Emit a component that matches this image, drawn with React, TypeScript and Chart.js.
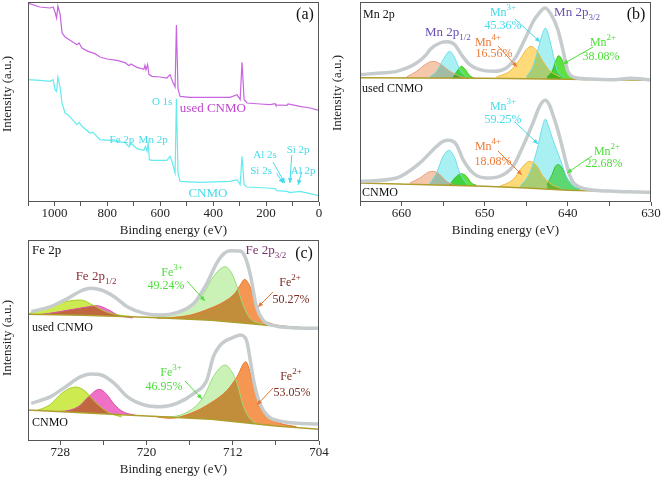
import React, { useEffect, useRef } from 'react';
import { Chart, registerables } from 'chart.js';
Chart.register(...registerables);

type Pt = [number, number];
const FONT = "'Liberation Serif', 'Times New Roman', serif";

// ---------- (a) survey spectra: [binding energy eV, intensity a.u.] ----------
const surveyUsed: Pt[] = [[1100,597],[1055,585],[1017,582],[1005,585],[998,570],[992,552],[987,588],[979,565],[971,507],[960,495],[941,485],[915,472],[907,477],[896,462],[873,452],[847,445],[828,435],[801,429],[764,425],[733,418],[718,409],[711,414],[688,404],[662,398],[658,410],[654,397],[648,412],[643,383],[631,377],[601,375],[575,372],[563,382],[554,362],[544,345],[539,531],[533,339],[525,317],[488,314],[412,314],[336,314],[310,322],[298,307],[291,419],[283,307],[272,297],[223,294],[185,292],[166,295],[163,290],[148,291],[121,290],[117,294],[72,287],[34,282],[0,275]];
const surveyCnmo: Pt[] = [[1100,367],[1055,365],[1017,362],[1005,367],[998,337],[992,332],[987,375],[979,345],[971,295],[960,267],[949,262],[915,232],[907,239],[896,227],[866,207],[854,209],[828,187],[790,185],[764,182],[733,178],[718,165],[711,177],[688,160],[662,155],[656,167],[650,152],[646,177],[641,127],[631,125],[575,125],[563,137],[554,117],[544,87],[539,310],[533,87],[525,62],[450,59],[336,62],[310,67],[298,52],[291,137],[283,52],[272,45],[197,42],[166,40],[159,34],[121,32],[110,28],[72,32],[34,25],[0,19]];

// ---------- (b) Mn 2p ----------
const usedMnEnv: Pt[] = [[665,382],[662.6,387],[660.6,392],[658.2,417],[657.0,443],[656.6,457],[655.4,477],[654.5,481],[653.6,472],[652.8,442],[651.8,412],[650.6,397],[649.0,392],[647.4,402],[646.2,437],[645.0,497],[644.2,540],[643.5,565],[642.75,582],[642.0,562],[641.2,517],[640.6,457],[640.0,392],[638.9,372],[637.3,369],[634.5,367],[632.5,371],[630,366]];
const usedMnBase: Pt[] = [[665,373],[650,371],[640,368],[630,365]];
const usedMn4Sat: Pt[] = [[659.4,375],[658.2,392],[657.0,415],[656.2,422],[655.4,415],[654.2,392],[653.0,377],[652.2,372]];
const usedMn3a: Pt[] = [[656.6,375],[655.8,392],[655.0,427],[654.2,452],[653.6,432],[653.0,397],[652.2,375]];
const usedMn2a: Pt[] = [[653.8,375],[653.2,397],[652.8,407],[652.4,399],[651.8,379],[651.2,371]];
const usedMn4b: Pt[] = [[648.6,375],[647.0,392],[645.8,427],[645.0,457],[644.4,467],[643.7,452],[643.0,422],[642.1,392],[640.9,375]];
const usedMn3b: Pt[] = [[645.0,375],[644.2,407],[643.6,457],[643.1,502],[642.7,522],[642.4,507],[641.9,457],[641.3,397],[640.6,375]];
const usedMn2b: Pt[] = [[642.5,375],[641.9,392],[641.4,427],[641.1,439],[640.7,427],[640.1,392],[639.3,372]];

const cnmoMnEnv: Pt[] = [[665,62],[660.6,72],[657.8,117],[656.2,157],[655.0,182],[654.3,185],[653.4,172],[652.6,127],[651.4,87],[649.8,72],[648.2,77],[646.6,107],[645.4,167],[644.2,237],[643.4,287],[642.75,305],[642.2,290],[641.8,262],[641.4,232],[641.0,197],[640.6,157],[640.2,117],[639.8,82],[639.4,60],[638.6,45],[637.3,37],[634.5,32],[630,29]];
const cnmoMnBase: Pt[] = [[665,57],[650,47],[645,42],[640,35],[630,29]];
const cnmoMn4Sat: Pt[] = [[659.0,57],[657.8,72],[656.8,89],[656.2,92],[655.4,82],[654.6,62],[653.8,52]];
const cnmoMn3a: Pt[] = [[656.6,55],[655.8,87],[655.0,137],[654.3,155],[653.6,132],[653.0,87],[652.2,55]];
const cnmoMn2a: Pt[] = [[654.2,53],[653.4,77],[652.8,85],[652.2,77],[651.6,57],[651.0,50]];
const cnmoMn4b: Pt[] = [[648.2,47],[646.6,67],[645.4,107],[644.6,122],[643.7,107],[643.0,77],[641.9,52],[640.9,42]];
const cnmoMn3b: Pt[] = [[645.8,45],[644.6,87],[643.7,157],[643.1,222],[642.7,249],[642.4,232],[641.8,187],[640.9,127],[640.1,72],[639.3,47],[638.5,38]];
const cnmoMn2b: Pt[] = [[642.5,52],[641.9,82],[641.5,107],[641.1,112],[640.7,102],[640.1,72],[639.3,47],[638.5,39]];

// ---------- (c) Fe 2p ----------
const usedFeEnv: Pt[] = [[730.7,388],[728.9,403],[727.3,428],[726.1,450],[725.2,458],[724.2,453],[723.0,433],[721.8,403],[720.2,383],[718.7,378],[717.2,385],[715.6,413],[714.4,473],[713.5,533],[712.8,563],[712.2,571],[711.3,570],[710.9,555],[710.4,503],[709.8,403],[709.2,363],[708.0,345],[706.4,340],[704,338]];
const usedFeBase: Pt[] = [[731,380],[726,377],[720,371],[714,362],[708,345],[704,337]];
const usedFe3a: Pt[] = [[731,381],[729.0,403],[727.5,418],[726.1,423],[725.0,408],[723.8,388],[722.6,378],[721.2,373]];
const usedFe2a: Pt[] = [[730.0,379],[729.0,383],[727.2,393],[725.7,401],[724.6,406],[723.5,393],[722.6,377],[721.3,369]];
const usedFe3b: Pt[] = [[719.6,371],[717.8,378],[715.9,408],[714.7,443],[713.8,493],[712.7,523],[712.1,503],[711.6,463],[711.1,413],[710.4,368],[709.5,353],[708.5,347]];
const usedFe2b: Pt[] = [[719.0,368],[717.8,370],[715.9,378],[714.1,398],[712.8,418],[711.8,443],[711.3,468],[710.9,485],[710.4,463],[709.9,418],[709.5,378],[708.5,353],[707.3,345],[706.0,341]];

const cnmoFeEnv: Pt[] = [[730.7,113],[728.9,133],[727.5,163],[726.1,193],[725.2,201],[724.2,198],[723.0,173],[721.8,133],[720.2,108],[718.7,103],[717.2,113],[715.6,143],[714.4,183],[713.8,253],[713.15,288],[712.7,300],[712.0,310],[711.3,318],[710.9,312],[710.69,298],[710.38,243],[710.07,183],[709.6,123],[708.84,78],[707.3,58],[704,51]];
const cnmoFeBase: Pt[] = [[731,93],[726,85],[720,75],[714,65],[708,45],[704,35]];
const cnmoFe3a: Pt[] = [[730.3,90],[729.0,108],[727.8,145],[726.6,162],[725.8,152],[724.7,115],[723.5,85],[722.3,72]];
const cnmoFe2a: Pt[] = [[728.5,88],[727.2,92],[726.2,106],[725.4,132],[724.4,155],[723.7,140],[723.0,110],[722.2,88],[721.0,77]];
const cnmoFe3b: Pt[] = [[719.6,74],[717.8,73],[715.9,93],[714.7,133],[713.8,193],[712.7,228],[712.1,208],[711.6,173],[711.0,103],[710.1,58],[709.0,48]];
const cnmoFe2b: Pt[] = [[719.0,72],[717.8,68],[715.9,83],[714.1,113],[712.5,153],[711.6,193],[710.8,238],[710.2,183],[709.6,113],[708.8,73],[707.6,53],[706.1,43]];

// ---------- styling ----------
const CYAN_T = '#45dbe8', MAG_T = '#c044d0', PURPLE = '#6b4fb3', ORANGE_T = '#ef7a36', GREEN_T = '#4ddf3a', FE2_T = '#7a2a22';
const ENV = 'rgb(198,204,206)';

type Seg = [string, number];
interface Note { x: number; y: number; t: string | Seg[]; c: string; s: number; a?: 'left' | 'center'; }
interface Arr { x1: number; y1: number; x2: number; y2: number; c: string; }

const sup = (a: string, b: string): Seg[] => [[a, 0], [b, 1]];
const sub = (a: string, b: string): Seg[] => [[a, 0], [b, -1]];

const toXY = (p: Pt[]) => p.map(([x, y]) => ({ x, y }));
const plain = (p: Pt[], color: string, w: number) => ({ data: toXY(p), borderColor: color, borderWidth: w, pointRadius: 0, fill: false, tension: 0 });
const smooth = (p: Pt[], color: string, w: number) => ({ data: toXY(p), borderColor: color, borderWidth: w, pointRadius: 0, fill: false, cubicInterpolationMode: 'monotone' });
const comp = (p: Pt[], stroke: string, fillC: string, base: number) => ({ data: toXY(p), borderColor: stroke, borderWidth: 1, pointRadius: 0, backgroundColor: fillC, fill: { target: base }, cubicInterpolationMode: 'monotone' });

const C_CYAN = 'rgb(168,240,242)', S_CYAN = 'rgb(110,222,232)';
const C_YEL = 'rgb(255,218,120)', S_YEL = 'rgb(240,185,70)';
const C_GRN = 'rgb(95,225,65)', S_GRN = 'rgb(55,195,35)';
const C_GRN2 = 'rgb(140,230,120)';
const C_SAL = 'rgb(245,200,172)', S_SAL = 'rgb(230,160,130)';
const C_FE3 = 'rgb(202,242,182)', S_FE3 = 'rgb(150,220,120)';
const C_FE2 = 'rgb(245,150,82)', S_FE2 = 'rgb(235,115,45)';
const C_YG = 'rgb(205,235,80)', S_YG = 'rgb(165,205,40)';
const C_PINK = 'rgb(240,112,200)', S_PINK = 'rgb(220,80,165)';
const BASE = 'rgb(175,158,45)';

interface Cfg {
  xMin: number; xMax: number; step: number; lab: (v: number) => boolean; yMax: number;
  pad: any; xh: number; tpb: number; yTitleY: number;
  ds: () => any[]; notes: Note[]; arrows: Arr[];
}

const cfgA: Cfg = {
  xMin: 0, xMax: 1100, step: 100, lab: (v) => v % 200 === 0 && v <= 1000, yMax: 600,
  pad: { left: 28, right: 11, top: 2, bottom: 0 }, xh: 36, tpb: 0, yTitleY: 94,
  ds: () => [plain(surveyUsed, 'rgb(200,100,225)', 1.2), plain(surveyCnmo, 'rgb(100,235,238)', 1.2)],
  notes: [
    { x: 53, y: 561, t: '(a)', c: '#111', s: 16 },
    { x: 593, y: 300, t: 'O 1s', c: CYAN_T, s: 11 },
    { x: 401, y: 279, t: 'used CNMO', c: MAG_T, s: 13 },
    { x: 745, y: 186, t: 'Fe 2p', c: CYAN_T, s: 11 },
    { x: 627, y: 186, t: 'Mn 2p', c: CYAN_T, s: 11 },
    { x: 204, y: 141, t: 'Al 2s', c: CYAN_T, s: 11 },
    { x: 79, y: 156, t: 'Si 2p', c: CYAN_T, s: 11 },
    { x: 219, y: 93, t: 'Si 2s', c: CYAN_T, s: 11 },
    { x: 60, y: 93, t: 'Al 2p', c: CYAN_T, s: 11 },
    { x: 420, y: 24, t: 'CNMO', c: CYAN_T, s: 13 },
  ],
  arrows: [
    { x1: 160, y1: 86, x2: 135, y2: 56, c: CYAN_T },
    { x1: 174, y1: 120, x2: 129, y2: 57, c: CYAN_T },
    { x1: 103, y1: 141, x2: 110, y2: 57, c: CYAN_T },
    { x1: 65, y1: 91, x2: 79, y2: 51, c: CYAN_T },
  ],
};

const cfgB: Cfg = {
  xMin: 630, xMax: 665, step: 5, lab: (v) => v % 10 === 0, yMax: 600,
  pad: { left: 30, right: 10, top: 2, bottom: 0 }, xh: 36, tpb: 0, yTitleY: 93,
  ds: () => [
    smooth(usedMnEnv, ENV, 3.5), smooth(cnmoMnEnv, ENV, 3.5),
    plain(usedMnBase, BASE, 1.5), plain(cnmoMnBase, BASE, 1.5),
    comp(usedMn4Sat, S_SAL, C_SAL, 2), comp(usedMn3a, S_CYAN, C_CYAN, 2), comp(usedMn2a, S_GRN, C_GRN, 2),
    comp(usedMn4b, S_YEL, C_YEL, 2), comp(usedMn3b, S_CYAN, C_CYAN, 2), comp(usedMn2b, S_GRN, C_GRN, 2),
    comp(cnmoMn4Sat, S_SAL, C_SAL, 3), comp(cnmoMn3a, S_CYAN, C_CYAN, 3), comp(cnmoMn2a, S_GRN, C_GRN, 3),
    comp(cnmoMn4b, S_YEL, C_YEL, 3), comp(cnmoMn3b, S_CYAN, C_CYAN, 3), comp(cnmoMn2b, S_GRN, C_GRN2, 3),
  ],
  notes: [
    { x: 664.64, y: 561, t: 'Mn 2p', c: '#111', s: 12, a: 'left' },
    { x: 631.8, y: 561, t: '(b)', c: '#111', s: 16 },
    { x: 654.42, y: 507, t: sub('Mn 2p', '1/2'), c: PURPLE, s: 13 },
    { x: 649.6, y: 477, t: sup('Mn', '4+'), c: ORANGE_T, s: 12 },
    { x: 648.88, y: 444, t: '16.56%', c: ORANGE_T, s: 12 },
    { x: 647.8, y: 567, t: sup('Mn', '3+'), c: CYAN_T, s: 12 },
    { x: 647.8, y: 528, t: '45.36%', c: CYAN_T, s: 12 },
    { x: 638.9, y: 567, t: sub('Mn 2p', '3/2'), c: PURPLE, s: 13 },
    { x: 635.77, y: 477, t: sup('Mn', '2+'), c: GREEN_T, s: 12 },
    { x: 636.01, y: 435, t: '38.08%', c: GREEN_T, s: 12 },
    { x: 664.76, y: 339, t: 'used CNMO', c: '#111', s: 12, a: 'left' },
    { x: 647.8, y: 285, t: sup('Mn', '3+'), c: CYAN_T, s: 12 },
    { x: 647.8, y: 246, t: '59.25%', c: CYAN_T, s: 12 },
    { x: 649.6, y: 165, t: sup('Mn', '4+'), c: ORANGE_T, s: 12 },
    { x: 649.0, y: 120, t: '18.08%', c: ORANGE_T, s: 12 },
    { x: 635.29, y: 150, t: sup('Mn', '2+'), c: GREEN_T, s: 12 },
    { x: 635.65, y: 114, t: '22.68%', c: GREEN_T, s: 12 },
    { x: 664.76, y: 27, t: 'CNMO', c: '#111', s: 12, a: 'left' },
  ],
  arrows: [
    { x1: 648.4, y1: 468, x2: 646.12, y2: 405, c: ORANGE_T },
    { x1: 646.36, y1: 549, x2: 643.35, y2: 480, c: CYAN_T },
    { x1: 636.98, y1: 465, x2: 640.58, y2: 414, c: GREEN_T },
    { x1: 646.36, y1: 240, x2: 643.59, y2: 174, c: CYAN_T },
    { x1: 648.4, y1: 153, x2: 645.52, y2: 81, c: ORANGE_T },
    { x1: 637.1, y1: 138, x2: 640.1, y2: 87, c: GREEN_T },
  ],
};

const cfgC: Cfg = {
  xMin: 704, xMax: 731, step: 4, lab: (v) => (v - 704) % 8 === 0, yMax: 603,
  pad: { left: 28, right: 11, top: 2, bottom: 0 }, xh: 37, tpb: 1, yTitleY: 100,
  ds: () => [
    smooth(usedFeEnv, ENV, 3.5), smooth(cnmoFeEnv, ENV, 3.5),
    plain(usedFeBase, BASE, 1.5), plain(cnmoFeBase, BASE, 1.5),
    comp(usedFe3a, S_YG, C_YG, 2), comp(usedFe2a, S_PINK, C_PINK, 2),
    comp(usedFe3b, S_FE3, C_FE3, 2), comp(usedFe2b, S_FE2, C_FE2, 2),
    comp(cnmoFe3a, S_YG, C_YG, 3), comp(cnmoFe2a, S_PINK, C_PINK, 3),
    comp(cnmoFe3b, S_FE3, C_FE3, 3), comp(cnmoFe2b, S_FE2, C_FE2, 3),
  ],
  notes: [
    { x: 730.63, y: 570, t: 'Fe 2p', c: '#111', s: 13, a: 'left' },
    { x: 705.39, y: 561, t: '(c)', c: '#111', s: 16 },
    { x: 724.69, y: 492, t: sub('Fe 2p', '1/2'), c: '#8a2d3a', s: 13 },
    { x: 708.92, y: 570, t: sub('Fe 2p', '3/2'), c: '#7a3070', s: 13 },
    { x: 717.64, y: 504, t: sup('Fe', '3+'), c: GREEN_T, s: 12 },
    { x: 718.2, y: 465, t: '49.24%', c: GREEN_T, s: 12 },
    { x: 706.69, y: 474, t: sup('Fe', '2+'), c: FE2_T, s: 12 },
    { x: 706.6, y: 423, t: '50.27%', c: FE2_T, s: 12 },
    { x: 730.63, y: 339, t: 'used CNMO', c: '#111', s: 12, a: 'left' },
    { x: 717.73, y: 204, t: sup('Fe', '3+'), c: GREEN_T, s: 12 },
    { x: 718.38, y: 162, t: '46.95%', c: GREEN_T, s: 12 },
    { x: 706.6, y: 192, t: sup('Fe', '2+'), c: FE2_T, s: 12 },
    { x: 706.5, y: 144, t: '53.05%', c: FE2_T, s: 12 },
    { x: 730.63, y: 54, t: 'CNMO', c: '#111', s: 12, a: 'left' },
  ],
  arrows: [
    { x1: 716.25, y1: 480, x2: 714.58, y2: 420, c: GREEN_T },
    { x1: 708.27, y1: 447, x2: 709.66, y2: 402, c: '#e07a3a' },
    { x1: 716.43, y1: 180, x2: 714.86, y2: 126, c: GREEN_T },
    { x1: 708.27, y1: 159, x2: 709.75, y2: 108, c: '#e07a3a' },
  ],
};

function drawNote(ctx: CanvasRenderingContext2D, px: number, py: number, n: Note) {
  const segs: Seg[] = typeof n.t === 'string' ? [[n.t, 0]] : n.t;
  const main = `${n.s}px ${FONT}`;
  const small = `${Math.round(n.s * 0.72)}px ${FONT}`;
  let total = 0;
  const ws = segs.map(([t, k]) => { ctx.font = k ? small : main; const w = ctx.measureText(t).width; total += w; return w; });
  let x = n.a === 'left' ? px : px - total / 2;
  ctx.fillStyle = n.c; ctx.textBaseline = 'middle'; ctx.textAlign = 'left';
  segs.forEach(([t, k], i) => {
    ctx.font = k ? small : main;
    const dy = k === 1 ? -n.s * 0.42 : k === -1 ? n.s * 0.32 : 0;
    ctx.fillText(t, x, py + dy);
    x += ws[i];
  });
}

function drawArrow(ctx: CanvasRenderingContext2D, x1: number, y1: number, x2: number, y2: number, c: string) {
  ctx.strokeStyle = c; ctx.fillStyle = c; ctx.lineWidth = 1;
  ctx.beginPath(); ctx.moveTo(x1, y1); ctx.lineTo(x2, y2); ctx.stroke();
  const a = Math.atan2(y2 - y1, x2 - x1), L = 5, W = 2.2;
  ctx.beginPath();
  ctx.moveTo(x2, y2);
  ctx.lineTo(x2 - L * Math.cos(a) + W * Math.sin(a), y2 - L * Math.sin(a) - W * Math.cos(a));
  ctx.lineTo(x2 - L * Math.cos(a) - W * Math.sin(a), y2 - L * Math.sin(a) + W * Math.cos(a));
  ctx.closePath(); ctx.fill();
}

function Panel({ cfg, left, top, width, height }: { cfg: Cfg; left: number; top: number; width: number; height: number }) {
  const ref = useRef<HTMLCanvasElement>(null);
  useEffect(() => {
    const overlay = {
      id: 'overlay',
      beforeDraw(chart: any) { chart.ctx.globalCompositeOperation = 'multiply'; },
      beforeDatasetsDraw(chart: any) { chart.ctx.globalCompositeOperation = 'source-over'; },
      afterDraw(chart: any) {
        const ctx: CanvasRenderingContext2D = chart.ctx;
        const { left: l, right: r, top: t, bottom: b } = chart.chartArea;
        const xs = chart.scales.x, ys = chart.scales.y;
        ctx.save();
        ctx.globalCompositeOperation = 'source-over';
        ctx.strokeStyle = '#555'; ctx.lineWidth = 1;
        ctx.strokeRect(l + 0.5, t + 0.5, r - l - 1, b - t - 1);
        cfg.arrows.forEach((a) => drawArrow(ctx, xs.getPixelForValue(a.x1), ys.getPixelForValue(a.y1), xs.getPixelForValue(a.x2), ys.getPixelForValue(a.y2), a.c));
        cfg.notes.forEach((n) => drawNote(ctx, xs.getPixelForValue(n.x), ys.getPixelForValue(n.y), n));
        ctx.translate(8, cfg.yTitleY);
        ctx.rotate(-Math.PI / 2);
        ctx.font = `13px ${FONT}`; ctx.fillStyle = '#222'; ctx.textAlign = 'center'; ctx.textBaseline = 'middle';
        ctx.fillText('Intensity (a.u.)', 0, 0);
        ctx.restore();
      },
    };
    const chart = new Chart(ref.current as HTMLCanvasElement, {
      type: 'line',
      data: { datasets: cfg.ds() },
      options: {
        animation: false, responsive: false, maintainAspectRatio: false,
        layout: { padding: cfg.pad },
        plugins: { legend: { display: false }, tooltip: { enabled: false }, filler: { propagate: false, drawTime: 'beforeDatasetsDraw' } },
        elements: { point: { radius: 0 } },
        scales: {
          x: {
            type: 'linear', min: cfg.xMin, max: cfg.xMax, reverse: true,
            afterFit: (s: any) => { s.height = cfg.xh; },
            ticks: {
              stepSize: cfg.step, autoSkip: false, maxRotation: 0, includeBounds: false, padding: 0,
              color: '#222', font: { family: FONT, size: 13 },
              callback: (v: any) => (cfg.lab(Number(v)) ? String(v) : ''),
            },
            grid: { display: true, drawOnChartArea: false, drawTicks: true, tickLength: 4, color: '#555' },
            border: { display: false },
            title: { display: true, text: 'Binding energy (eV)', color: '#222', font: { family: FONT, size: 13 }, padding: { top: 0, bottom: cfg.tpb } },
          },
          y: { display: false, min: 0, max: cfg.yMax },
        },
      } as any,
      plugins: [overlay],
    });
    return () => chart.destroy();
  }, [cfg]);
  return <canvas ref={ref} width={width} height={height} style={{ position: 'absolute', left, top, width, height }} />;
}

export default function App() {
  return (
    <div style={{ position: 'fixed', left: 0, top: 0, width: 661, height: 478, background: '#fff' }}>
      <Panel cfg={cfgA} left={0} top={0} width={330} height={238} />
      <Panel cfg={cfgB} left={330} top={0} width={331} height={238} />
      <Panel cfg={cfgC} left={0} top={238} width={330} height={240} />
    </div>
  );
}
